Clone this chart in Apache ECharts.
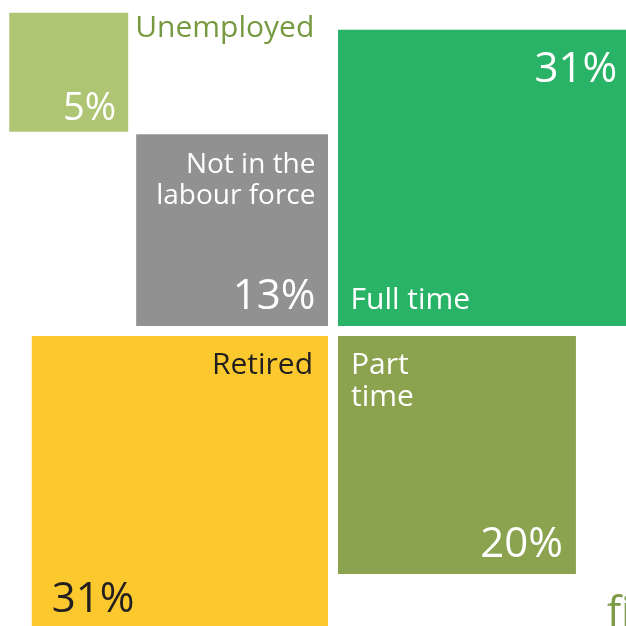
<!DOCTYPE html>
<html>
<head>
<meta charset="utf-8">
<script src="https://cdn.jsdelivr.net/npm/echarts@6/dist/echarts.min.js"></script>
<style>
  html, body { margin: 0; padding: 0; background: #ffffff; }
  #chart { width: 626px; height: 626px; }
</style>
</head>
<body>
<div id="chart"></div>
<script>
// Labour-force status, share of people in percent.
// Each status is a square whose area is proportional to its share.
const categories = ['Unemployed', 'Not in the\nlabour force', 'Full time', 'Retired', 'Part\ntime'];
const shares = [5, 13, 31, 31, 20];

// Look of each square
const fills = ['#aec573', '#919191', '#29b366', '#fbc92d', '#8ba24f'];
const nameColors = ['#77993f', '#ffffff', '#ffffff', '#231f20', '#ffffff'];
const valueColors = ['#ffffff', '#ffffff', '#ffffff', '#231f20', '#ffffff'];

// Pixels per unit of sqrt(percent); the axes are expressed in those units
const PX = 53.2;
const CX = 333, CY = 331;     // where the four big squares meet
const GAP = 5;                // half the white gutter between squares
const FONT = '"Open Sans", "Noto Sans", sans-serif';
const MID = 0.30;             // baseline offset from glyph middle, in em

function line(text, x, baseline, size, color, align) {
  return {
    type: 'text',
    x: x,
    y: baseline - MID * size,
    style: {
      text: text,
      fill: color,
      font: size + 'px ' + FONT,
      align: align,
      verticalAlign: 'middle'
    }
  };
}

function renderItem(params, api) {
  const i = params.dataIndex;
  const v = api.value(1);
  const side = api.size([Math.sqrt(v), Math.sqrt(v)]);
  const w = side[0], h = side[1];
  const o = api.coord([0, 0]);
  const lines = categories[i].split('\n');
  const pct = shares[i] + '%';
  let x, y;
  const kids = [];

  if (i === 0) {
    // small square tucked against the top-left corner of "Not in the labour force"
    const ns = api.size([Math.sqrt(shares[1]), Math.sqrt(shares[1])]);
    const nx = o[0] - GAP - ns[0], ny = o[1] - GAP - ns[1];
    x = nx - 8 - w; y = ny - 2.5 - h;
    kids.push(line(lines[0], x + w + 7, y + 25, 30, nameColors[i], 'left'));
    kids.push(line(pct, x + w - 12, y + h - 11.5, 38, valueColors[i], 'right'));
  } else if (i === 1) {
    x = o[0] - GAP - w; y = o[1] - GAP - h;
    kids.push(line(lines[0], x + w - 12.5, y + 39, 28, nameColors[i], 'right'));
    kids.push(line(lines[1], x + w - 12.5, y + 70, 28, nameColors[i], 'right'));
    kids.push(line(pct, x + w - 12.5, y + h - 16, 42, valueColors[i], 'right'));
  } else if (i === 2) {
    x = o[0] + GAP; y = o[1] - GAP - h;
    kids.push(line(pct, x + w - 17, y + 52.5, 42, valueColors[i], 'right'));
    kids.push(line(lines[0], x + 12.5, y + h - 17, 30, nameColors[i], 'left'));
  } else if (i === 3) {
    x = o[0] - GAP - w; y = o[1] + GAP;
    kids.push(line(lines[0], x + w - 15, y + 38, 30, nameColors[i], 'right'));
    kids.push(line(pct, x + 20, y + 277, 42, valueColors[i], 'left'));
  } else {
    x = o[0] + GAP; y = o[1] + GAP;
    kids.push(line(lines[0], x + 13, y + 38, 30, nameColors[i], 'left'));
    kids.push(line(lines[1], x + 13, y + 70.7, 30, nameColors[i], 'left'));
    kids.push(line(pct, x + w - 13, y + h - 16.5, 42, valueColors[i], 'right'));
  }

  kids.unshift({
    type: 'rect',
    shape: { x: x, y: y, width: w, height: h },
    style: { fill: fills[i] }
  });
  return { type: 'group', children: kids };
}

const chart = echarts.init(document.getElementById('chart'), null, { renderer: 'canvas' });
chart.setOption({
  animation: false,
  backgroundColor: '#ffffff',
  grid: { left: 0, right: 0, top: 0, bottom: 0 },
  xAxis: {
    type: 'value', show: false,
    min: -CX / PX, max: (626 - CX) / PX
  },
  yAxis: {
    type: 'value', show: false, inverse: true,
    min: -CY / PX, max: (626 - CY) / PX
  },
  graphic: [{
    type: 'text',
    left: 607, top: 593,
    style: { text: 'fi', fill: '#7d9a45', font: '42px ' + FONT }
  }],
  series: [{
    type: 'custom',
    renderItem: renderItem,
    clip: false,
    data: shares.map(function (s, i) { return [i, s]; })
  }]
});
</script>
</body>
</html>
